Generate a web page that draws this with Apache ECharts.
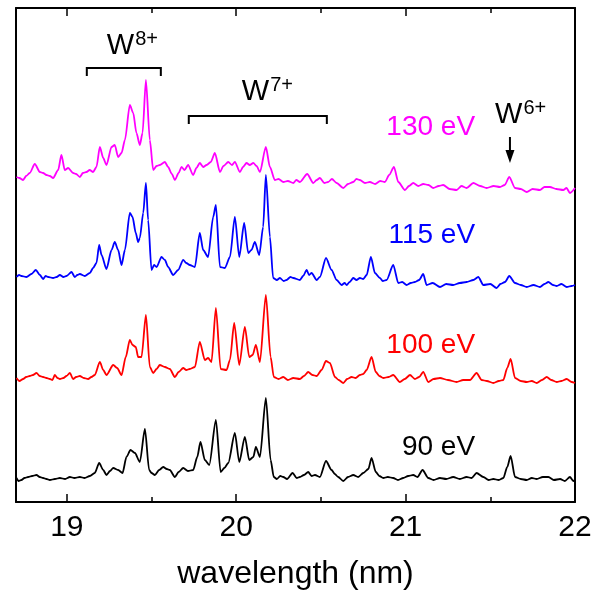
<!DOCTYPE html>
<html>
<head>
<meta charset="utf-8">
<script src="https://cdn.jsdelivr.net/npm/echarts@6/dist/echarts.min.js"></script>
<style>
html, body { margin: 0; padding: 0; background: #fff; }
#main { width: 601px; height: 591px; }
</style>
</head>
<body>
<div id="main"></div>
<script>
// spectra: [wavelength (nm), intensity (arb.)]
var spec90 = [[18.703,4],[18.715,1],[18.732,2],[18.750,4],[18.772,5],[18.795,6],[18.821,7],[18.840,5],[18.860,4],[18.880,3],[18.900,2],[18.930,3],[18.959,4],[18.990,3],[19.018,5],[19.045,4],[19.077,5],[19.105,4],[19.136,6],[19.165,9],[19.191,19],[19.215,12],[19.234,7],[19.255,11],[19.274,14],[19.303,12],[19.329,9],[19.352,25],[19.376,32],[19.402,29],[19.431,20],[19.461,53],[19.486,12],[19.500,9],[19.520,7],[19.545,12],[19.569,15],[19.590,13],[19.608,12],[19.638,5],[19.660,10],[19.687,14],[19.715,11],[19.746,12],[19.770,25],[19.789,40],[19.815,22],[19.841,17],[19.880,62],[19.908,10],[19.930,14],[19.953,19],[19.992,49],[20.018,20],[20.051,45],[20.077,22],[20.101,25],[20.116,35],[20.140,25],[20.175,84],[20.203,22],[20.222,5],[20.240,3],[20.260,6],[20.278,5],[20.300,3],[20.333,9],[20.357,4],[20.376,5],[20.400,7],[20.425,10],[20.445,6],[20.465,7],[20.494,5],[20.530,21],[20.563,12],[20.582,8],[20.602,5],[20.632,1],[20.660,5],[20.691,7],[20.720,5],[20.750,9],[20.780,13],[20.799,24],[20.824,10],[20.845,6],[20.868,4],[20.895,5],[20.927,4],[20.955,2],[20.986,4],[21.015,6],[21.045,7],[21.070,5],[21.100,12],[21.134,4],[21.165,2],[21.203,4],[21.240,3],[21.281,5],[21.320,3],[21.360,5],[21.390,4],[21.419,9],[21.459,5],[21.490,2],[21.518,3],[21.550,2],[21.577,4],[21.600,15],[21.620,26],[21.646,5],[21.680,3],[21.715,2],[21.745,4],[21.774,3],[21.810,5],[21.843,5],[21.875,2],[21.912,3],[21.940,1],[21.970,5],[21.990,1],[22.0,2]];
var spec100 = [[18.703,6],[18.720,3],[18.742,5],[18.760,7],[18.781,8],[18.800,9],[18.821,11],[18.840,8],[18.860,7],[18.880,6],[18.900,5],[18.915,4],[18.929,9],[18.945,6],[18.959,5],[18.980,6],[18.998,8],[19.018,11],[19.037,5],[19.055,7],[19.077,8],[19.100,6],[19.126,5],[19.145,7],[19.165,9],[19.195,22],[19.215,14],[19.234,9],[19.274,19],[19.297,16],[19.323,9],[19.348,27],[19.372,44],[19.388,39],[19.407,37],[19.421,27],[19.441,27],[19.467,69],[19.490,17],[19.510,11],[19.530,15],[19.549,19],[19.579,17],[19.608,15],[19.638,7],[19.660,12],[19.687,16],[19.705,14],[19.726,15],[19.756,17],[19.785,42],[19.815,24],[19.834,26],[19.854,22],[19.880,76],[19.908,15],[19.943,14],[19.963,24],[19.988,61],[20.018,19],[20.051,57],[20.077,27],[20.097,29],[20.116,39],[20.140,22],[20.175,89],[20.203,27],[20.222,7],[20.250,5],[20.278,7],[20.305,4],[20.337,6],[20.376,5],[20.400,8],[20.425,12],[20.450,9],[20.475,8],[20.504,14],[20.530,23],[20.553,21],[20.583,7],[20.605,4],[20.632,1],[20.655,5],[20.681,7],[20.705,6],[20.730,9],[20.750,10],[20.770,14],[20.799,27],[20.824,12],[20.845,8],[20.868,6],[20.900,7],[20.927,9],[20.966,2],[20.995,5],[21.026,9],[21.055,5],[21.080,7],[21.104,12],[21.134,2],[21.165,5],[21.203,6],[21.250,4],[21.301,2],[21.340,4],[21.380,4],[21.419,11],[21.449,4],[21.480,3],[21.518,1],[21.550,3],[21.577,4],[21.600,16],[21.620,25],[21.646,6],[21.680,3],[21.715,2],[21.745,3],[21.774,1],[21.805,4],[21.833,7],[21.860,4],[21.892,2],[21.920,3],[21.951,5],[21.980,2],[22.0,1]];
var spec115 = [[18.703,9],[18.718,11],[18.732,10],[18.762,9],[18.791,12],[18.817,16],[18.841,11],[18.860,7],[18.875,10],[18.890,9],[18.919,8],[18.940,9],[18.959,11],[18.980,9],[18.998,10],[19.028,14],[19.047,9],[19.062,11],[19.077,12],[19.106,10],[19.136,13],[19.155,18],[19.175,23],[19.191,41],[19.205,31],[19.234,17],[19.264,36],[19.283,44],[19.303,36],[19.323,21],[19.343,36],[19.372,73],[19.388,69],[19.407,53],[19.421,44],[19.431,48],[19.451,73],[19.467,103],[19.480,66],[19.500,16],[19.515,21],[19.530,19],[19.559,29],[19.579,26],[19.598,19],[19.628,11],[19.657,16],[19.687,26],[19.705,23],[19.726,21],[19.756,19],[19.785,53],[19.805,36],[19.834,29],[19.864,69],[19.880,81],[19.904,19],[19.933,18],[19.963,29],[19.992,69],[20.018,29],[20.047,63],[20.071,33],[20.090,36],[20.110,44],[20.136,31],[20.159,59],[20.175,111],[20.199,49],[20.218,8],[20.240,6],[20.258,8],[20.280,5],[20.297,6],[20.320,9],[20.337,8],[20.376,6],[20.395,10],[20.416,16],[20.430,11],[20.445,13],[20.475,6],[20.494,9],[20.530,28],[20.563,16],[20.593,6],[20.622,1],[20.640,3],[20.652,1],[20.670,4],[20.691,8],[20.710,6],[20.730,8],[20.750,7],[20.770,11],[20.795,29],[20.819,13],[20.848,8],[20.865,5],[20.888,6],[20.927,21],[20.957,3],[20.980,4],[21.006,1],[21.030,3],[21.055,4],[21.080,6],[21.104,12],[21.124,1],[21.160,3],[21.203,-1],[21.240,2],[21.281,1],[21.320,3],[21.360,4],[21.400,6],[21.429,9],[21.459,1],[21.500,2],[21.537,-2],[21.560,2],[21.587,4],[21.612,10],[21.646,3],[21.680,1],[21.715,-1],[21.755,1],[21.793,-1],[21.820,2],[21.843,4],[21.870,1],[21.892,0],[21.920,2],[21.951,-1],[21.980,0],[22.0,1]];
var spec130 = [[18.703,15],[18.720,14],[18.742,12],[18.760,16],[18.781,19],[18.811,28],[18.841,20],[18.860,19],[18.880,17],[18.900,16],[18.919,14],[18.949,22],[18.968,37],[18.988,22],[19.008,24],[19.037,19],[19.055,18],[19.077,15],[19.095,19],[19.116,20],[19.135,22],[19.155,20],[19.175,25],[19.195,45],[19.215,34],[19.234,27],[19.264,45],[19.283,47],[19.303,35],[19.323,39],[19.343,52],[19.372,87],[19.392,79],[19.411,59],[19.431,47],[19.447,59],[19.467,112],[19.490,52],[19.510,22],[19.530,26],[19.549,27],[19.579,30],[19.598,25],[19.620,18],[19.638,12],[19.660,19],[19.677,25],[19.695,22],[19.716,27],[19.746,17],[19.765,24],[19.785,29],[19.805,25],[19.825,27],[19.850,30],[19.874,39],[19.904,20],[19.925,26],[19.953,30],[19.975,27],[19.992,30],[20.022,20],[20.040,25],[20.061,29],[20.080,27],[20.101,29],[20.120,26],[20.140,20],[20.175,45],[20.199,25],[20.228,12],[20.250,13],[20.278,10],[20.305,11],[20.337,9],[20.355,12],[20.376,10],[20.419,18],[20.455,9],[20.475,12],[20.494,14],[20.520,9],[20.543,10],[20.565,13],[20.593,9],[20.632,4],[20.660,8],[20.691,10],[20.710,13],[20.730,12],[20.760,9],[20.789,10],[20.820,8],[20.850,11],[20.878,10],[20.903,17],[20.931,25],[20.957,10],[20.996,2],[21.020,6],[21.045,9],[21.075,6],[21.104,8],[21.135,7],[21.163,4],[21.195,6],[21.222,7],[21.260,3],[21.301,2],[21.330,6],[21.360,4],[21.400,9],[21.440,6],[21.478,4],[21.520,6],[21.557,5],[21.585,7],[21.612,15],[21.646,4],[21.680,3],[21.715,0],[21.750,3],[21.793,2],[21.820,5],[21.852,5],[21.890,3],[21.931,2],[21.950,4],[21.970,-1],[22.0,4]];

var spectra = [spec90, spec100, spec115, spec130];
var energies = ['90 eV', '100 eV', '115 eV', '130 eV'];
var offsets = [20, 118, 216, 310];       // vertical shift of each trace
var colors = ['#000000', '#ff0000', '#0000ff', '#ff00ff'];
var majorTicks = [19, 20, 21, 22];
var minorTicks = [19.5, 20.5, 21.5];

var font = '"Liberation Sans", Arial, Helvetica, sans-serif';

var chart = echarts.init(document.getElementById('main'));

var shift = function (data, off) {
    var out = [];
    for (var i = 0; i < data.length; i++) {
        out.push([data[i][0], data[i][1] + off]);
    }
    return out;
};

var series = [];
for (var k = 0; k < spectra.length; k++) {
    series.push({
        name: energies[k],
        type: 'line',
        xAxisIndex: 0,
        yAxisIndex: 0,
        showSymbol: false,
        symbol: 'none',
        smooth: 0.25,
        smoothMonotone: 'x',
        lineStyle: { color: colors[k], width: 1.8 },
        data: shift(spectra[k], offsets[k])
    });
}

var xAx = function (pos, ticks, len, line, labels) {
    return {
        type: 'value',
        position: pos,
        min: 18.7,
        max: 22,
        axisLine: { show: line, onZero: false, lineStyle: { color: '#000', width: 2 } },
        axisTick: { show: true, inside: true, length: len, customValues: ticks, lineStyle: { color: '#000', width: 1.5 } },
        axisLabel: { show: labels, customValues: ticks, margin: 11, fontSize: 30, color: '#000', fontFamily: font },
        splitLine: { show: false }
    };
};

var bottom = xAx('bottom', majorTicks, 8, true, true);
bottom.name = 'wavelength (nm)';
bottom.nameLocation = 'middle';
bottom.nameGap = 56;
bottom.nameTextStyle = { fontSize: 32, color: '#000', fontFamily: font };

var yAx = function (pos) {
    return {
        type: 'value',
        position: pos,
        min: 0,
        max: 494,
        axisLine: { show: true, lineStyle: { color: '#000', width: 2 } },
        axisTick: { show: false },
        axisLabel: { show: false },
        splitLine: { show: false }
    };
};

chart.setOption({
    animation: false,
    backgroundColor: '#fff',
    grid: { left: 16, right: 26, top: 8, bottom: 89, outerBoundsMode: 'none' },
    xAxis: [
        bottom,
        xAx('bottom', minorTicks, 5, false, false),
        xAx('top', majorTicks, 8, true, false),
        xAx('top', minorTicks, 5, false, false)
    ],
    yAxis: [yAx('left'), yAx('right')],
    series: series
});

// annotations, placed in data coordinates
var toPx = function (x, v) {
    return chart.convertToPixel({ gridIndex: 0 }, [x, v]);
};

var bracket = function (x1, x2, v, drop) {
    var a = toPx(x1, v - drop), b = toPx(x1, v), c = toPx(x2, v), d = toPx(x2, v - drop);
    return {
        type: 'polyline',
        shape: { points: [a, b, c, d] },
        style: { stroke: '#000', lineWidth: 2, fill: null }
    };
};

var ionLabel = function (x, v, charge) {
    var p = toPx(x, v);
    return {
        type: 'text',
        x: p[0],
        y: p[1],
        style: {
            text: '{w|W}{s|' + charge + '}',
            align: 'left',
            verticalAlign: 'middle',
            fill: '#000',
            rich: {
                w: { fontSize: 29, lineHeight: 30, fontFamily: font, fill: '#000' },
                s: { fontSize: 20, lineHeight: 34, verticalAlign: 'top', fontFamily: font, fill: '#000', padding: [0, 0, 0, 1] }
            }
        }
    };
};

var energyLabel = function (k, x, v) {
    var p = toPx(x, v);
    return {
        type: 'text',
        x: p[0],
        y: p[1],
        style: {
            text: energies[k],
            align: 'right',
            verticalAlign: 'middle',
            fontSize: 28,
            fontFamily: font,
            fill: colors[k]
        }
    };
};

var tip = toPx(21.616, 339);
var tail = toPx(21.616, 365);

chart.setOption({
    graphic: [
        bracket(19.118, 19.555, 434, 8),
        bracket(19.720, 20.535, 386, 8),
        ionLabel(19.236, 456, '8+'),
        ionLabel(20.033, 410, '7+'),
        ionLabel(21.528, 387, '6+'),
        {
            type: 'line',
            shape: { x1: tail[0], y1: tail[1], x2: tip[0], y2: tip[1] - 10 },
            style: { stroke: '#000', lineWidth: 2 }
        },
        {
            type: 'polygon',
            shape: { points: [[tip[0], tip[1]], [tip[0] - 4.5, tip[1] - 13], [tip[0] + 4.5, tip[1] - 13]] },
            style: { fill: '#000' }
        },
        energyLabel(3, 21.41, 375),
        energyLabel(2, 21.41, 267),
        energyLabel(1, 21.41, 157),
        energyLabel(0, 21.41, 55)
    ]
});
</script>
</body>
</html>
